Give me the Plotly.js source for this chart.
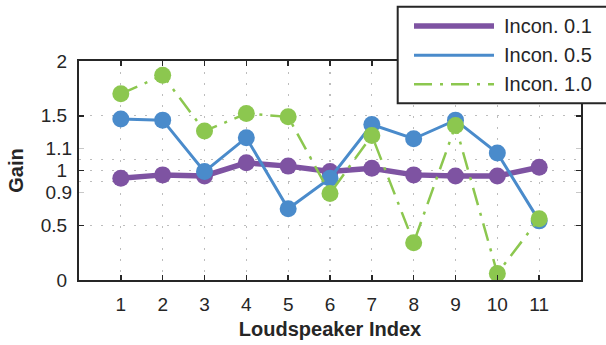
<!DOCTYPE html>
<html>
<head>
<meta charset="utf-8">
<script src="https://cdn.plot.ly/plotly-3.0.1.min.js"></script>
<style>html,body{margin:0;padding:0;background:#fff;}#chart{width:606px;height:345px;}</style>
</head>
<body>
<div id="chart"></div>
<script>
// Data (values in the axis' own units)
const speakers = [1, 2, 3, 4, 5, 6, 7, 8, 9, 10, 11];
const incon01 = [0.93, 0.96, 0.95, 1.07, 1.04, 0.99, 1.02, 0.96, 0.95, 0.95, 1.03];
const incon05 = [1.47, 1.46, 0.99, 1.30, 0.65, 0.93, 1.42, 1.29, 1.46, 1.16, 0.54];
const incon10 = [1.70, 1.87, 1.36, 1.52, 1.49, 0.79, 1.32, 0.34, 1.41, 0.06, 0.56];
const seriesNames = ['Incon. 0.1', 'Incon. 0.5', 'Incon. 1.0'];
const majorTickVals = [0, 0.5, 1, 1.5, 2];
const majorTickText = ['0', '0.5', '1', '1.5', '2'];
const extraTickVals = [0.8, 1.2];
const extraTickText = ['0.9', '1.1'];
const gridVals = [0.5, 0.9, 1, 1.1, 1.5];

const colors = ['#7e53a2', '#4a8bcb', '#8cc74f'];
const widths = [5.5, 3, 2.5];
const dashes = ['solid', 'solid', '18px,8px,3px,8px'];
const seriesData = [incon01, incon05, incon10];

const FONT = 'Liberation Sans, Arial, Helvetica, sans-serif';
const INK = '#262626';
const GRID = '#bdbdbd';
const GRIDDASH = '2px,9px';

const traces = seriesData.map((ys, i) => ({
  type: 'scatter', mode: 'lines+markers', x: speakers, y: ys, name: seriesNames[i],
  line: {color: colors[i], width: widths[i], dash: dashes[i]},
  marker: {color: colors[i], size: 17},
  showlegend: false, cliponaxis: false
}));
// empty helper trace so the secondary tick axis (0.9 / 1.1 labels) is drawn
traces.push({type: 'scatter', mode: 'markers', x: [], y: [], yaxis: 'y2',
             showlegend: false, hoverinfo: 'skip'});

// manual legend (MATLAB-style long line samples)
const px2x = px => (px - 79) / 502;
const px2y = py => (280 - py) / 219;
const shapes = [{
  type: 'rect', xref: 'paper', yref: 'paper', layer: 'above',
  x0: px2x(397.7), x1: px2x(608), y0: px2y(103.3), y1: px2y(6.7),
  line: {color: INK, width: 2}, fillcolor: '#ffffff'
}];
const annotations = [];
const rowY = [26, 55.3, 84.3];
seriesNames.forEach((nm, i) => {
  shapes.push({
    type: 'line', xref: 'paper', yref: 'paper', layer: 'above',
    x0: px2x(414), x1: px2x(494), y0: px2y(rowY[i]), y1: px2y(rowY[i]),
    line: {color: colors[i], width: widths[i], dash: dashes[i]}
  });
  annotations.push({
    xref: 'paper', yref: 'paper', x: px2x(502), y: px2y(rowY[i]),
    xanchor: 'left', yanchor: 'middle', showarrow: false, text: nm,
    font: {family: FONT, size: 20, color: INK}
  });
});

const layout = {
  width: 606, height: 345,
  margin: {l: 79, r: 25, t: 61, b: 65, pad: 0},
  paper_bgcolor: '#ffffff', plot_bgcolor: '#ffffff',
  font: {family: FONT, size: 19, color: INK},
  showlegend: false,
  xaxis: {
    range: [0, 12], tickmode: 'array', tickvals: speakers, ticktext: speakers.map(String),
    ticks: 'inside', ticklen: 5, tickwidth: 1.5, tickcolor: INK,
    showline: true, linecolor: INK, linewidth: 2, mirror: 'ticks',
    showgrid: true, gridcolor: GRID, griddash: GRIDDASH, gridwidth: 1.2,
    zeroline: false, ticklabelstandoff: 6,
    tickfont: {family: FONT, size: 19, color: INK},
    title: {text: '<b>Loudspeaker Index</b>', font: {family: FONT, size: 20, color: INK}, standoff: 8}
  },
  yaxis: {
    range: [0, 2], tickmode: 'array', tickvals: majorTickVals, ticktext: majorTickText,
    ticks: 'inside', ticklen: 5, tickwidth: 1.5, tickcolor: INK,
    showline: true, linecolor: INK, linewidth: 2, mirror: 'ticks',
    showgrid: false, zeroline: false, ticklabelstandoff: 6,
    tickfont: {family: FONT, size: 19, color: INK},
    minor: {tickmode: 'array', tickvals: gridVals, ticks: '', showgrid: true,
            gridcolor: GRID, griddash: GRIDDASH, gridwidth: 1.2},
    title: {text: '<b>Gain</b>', font: {family: FONT, size: 20, color: INK}, standoff: 12}
  },
  yaxis2: {
    overlaying: 'y', side: 'left', anchor: 'x', range: [0, 2],
    tickmode: 'array', tickvals: extraTickVals, ticktext: extraTickText,
    ticks: 'inside', ticklen: 5, tickwidth: 1.5, tickcolor: '#c8c8c8',
    showline: false, mirror: 'ticks', showgrid: false, zeroline: false,
    ticklabelstandoff: 6, tickfont: {family: FONT, size: 19, color: INK}
  },
  shapes: shapes,
  annotations: annotations
};

Plotly.newPlot('chart', traces, layout, {staticPlot: true, displayModeBar: false});
</script>
</body>
</html>
